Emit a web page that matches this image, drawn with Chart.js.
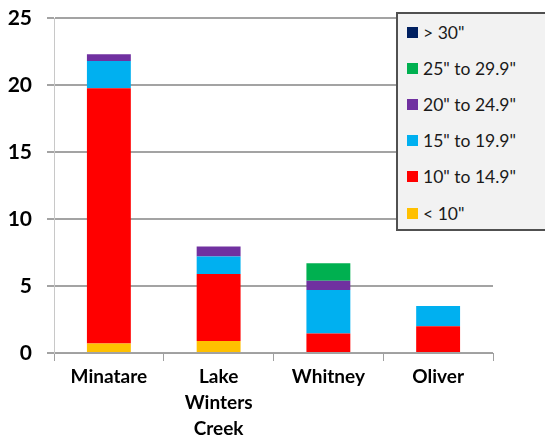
<!DOCTYPE html>
<html>
<head>
<meta charset="utf-8">
<script src="https://cdn.jsdelivr.net/npm/chart.js@4/dist/chart.umd.min.js"></script>
<style>
  html, body { margin: 0; padding: 0; background: #fff; }
  #wrap { position: relative; width: 545px; height: 439px; overflow: hidden; }
  #legend {
    position: absolute; left: 396px; top: 12px; width: 160px; height: 219px;
    background: #f2f2f2; border: 2px solid #505050; box-sizing: border-box;
    font-family: Lato, "Open Sans", sans-serif; font-size: 17.5px; color: #1a1a1a;
    padding-top: 0px;
  }
  .item { height: 36.2px; display: flex; align-items: center; padding-left: 9px; }
  .sw { width: 11px; height: 11px; margin-right: 5px; }
</style>
</head>
<body>
<div id="wrap">
  <canvas id="chart" width="545" height="439"></canvas>
  <div id="legend"></div>
</div>
<script>
// sites along the x axis
const categories = ['Minatare', ['Lake', 'Winters', 'Creek'], 'Whitney', 'Oliver'];

// size classes (stacked bottom to top)
const seriesNames = ['< 10"', '10" to 14.9"', '15" to 19.9"', '20" to 24.9"', '25" to 29.9"', '> 30"'];
const seriesColors = ['#ffc000', '#ff0000', '#00b0f0', '#7030a0', '#00b050', '#002060'];

const under10   = [0.7, 0.9, 0, 0];
const from10    = [19.05, 5.0, 1.45, 2.0];
const from15    = [2.05, 1.3, 3.25, 1.5];
const from20    = [0.5, 0.75, 0.7, 0];
const from25    = [0, 0, 1.3, 0];
const over30    = [0, 0, 0, 0];

const yTicks = [0, 5, 10, 15, 20, 25];

const seriesValues = [under10, from10, from15, from20, from25, over30];

const datasets = seriesValues.map((vals, i) => ({
  label: seriesNames[i],
  data: vals,
  backgroundColor: seriesColors[i],
  barPercentage: 0.4,
  categoryPercentage: 1.0,
}));

const ctx = document.getElementById('chart').getContext('2d');
const chart = new Chart(ctx, {
  type: 'bar',
  data: { labels: categories, datasets: datasets },
  options: {
    responsive: false,
    animation: false,
    layout: { padding: { top: 18, right: 52, left: 0, bottom: 0 } },
    plugins: { legend: { display: false }, tooltip: { enabled: false } },
    scales: {
      x: {
        stacked: true,
        afterFit: (s) => { s.height = 86; s.paddingLeft = 0; s.paddingRight = 0; },
        grid: { drawOnChartArea: false, color: '#a0a0a0', tickLength: 8, lineWidth: 1 },
        border: { color: '#a0a0a0', width: 1 },
        ticks: {
          color: '#000',
          padding: 3,
          font: { family: 'Lato', size: 19, weight: 'bold', lineHeight: 1.37 },
        },
      },
      y: {
        stacked: true,
        min: 0,
        max: 25,
        afterFit: (s) => { s.width = 54; s.paddingTop = 0; s.paddingBottom = 0; },
        afterBuildTicks: (s) => { s.ticks = yTicks.map(v => ({ value: v })); },
        grid: { color: '#a3a3a3', lineWidth: 2, tickLength: 7 },
        border: { color: '#c8c8c8', width: 1 },
        ticks: {
          color: '#000',
          padding: 15,
          font: { family: 'Lato', size: 21, weight: 'bold' },
        },
      },
    },
  },
});

// legend box drawn over the plot, top series first
const legendEl = document.getElementById('legend');
chart.data.datasets.slice().reverse().forEach(ds => {
  const row = document.createElement('div');
  row.className = 'item';
  const sw = document.createElement('span');
  sw.className = 'sw';
  sw.style.background = ds.backgroundColor;
  const txt = document.createElement('span');
  txt.textContent = ds.label;
  row.appendChild(sw);
  row.appendChild(txt);
  legendEl.appendChild(row);
});
</script>
</body>
</html>
